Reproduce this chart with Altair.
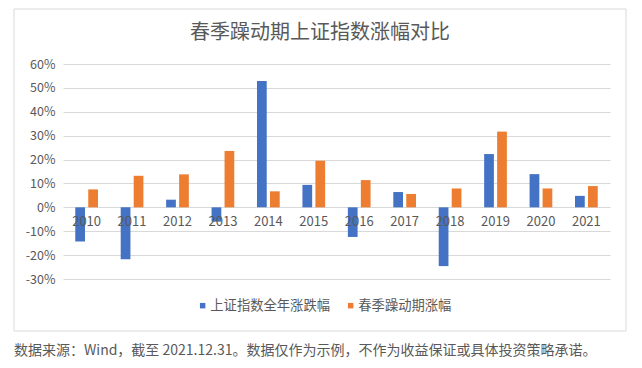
import altair as alt
import pandas as pd

years = ["2010", "2011", "2012", "2013", "2014", "2015", "2016", "2017", "2018", "2019", "2020", "2021"]
series_names = ["上证指数全年涨跌幅", "春季躁动期涨幅"]
shanghai_annual = [-14.3, -21.7, 3.2, -6.0, 52.9, 9.4, -12.4, 6.4, -24.6, 22.3, 13.9, 4.8]
spring_rally = [7.5, 13.2, 13.8, 23.6, 6.7, 19.5, 11.4, 5.6, 7.9, 31.7, 7.9, 8.9]
y_ticks = [-30, -20, -10, 0, 10, 20, 30, 40, 50, 60]
colors = ["#4472C4", "#ED7D31"]
title_text = "春季躁动期上证指数涨幅对比"
footnote_text = "数据来源：Wind，截至 2021.12.31。数据仅作为示例，不作为收益保证或具体投资策略承诺。"

FONT = "Noto Sans CJK SC"
GRAY = "#595959"

rows = []
for i, y in enumerate(years):
    rows.append({"year": y, "series": series_names[0], "value": shanghai_annual[i]})
    rows.append({"year": y, "series": series_names[1], "value": spring_rally[i]})
df = pd.DataFrame(rows)
year_df = pd.DataFrame({"year": years})
one = pd.DataFrame({"a": [0]})

W, H = 547, 215

x_scale = alt.Scale(domain=years, paddingInner=0.5, paddingOuter=0.27)
y_scale = alt.Scale(domain=[-30, 60], nice=False, zero=True)
y_axis = alt.Axis(values=y_ticks, title=None, domain=False, ticks=False,
                  labelExpr="datum.value + '%'", labelFont=FONT, labelFontSize=12.5,
                  labelColor=GRAY, labelPadding=8, labelOverlap=False,
                  grid=True, gridColor="#D9D9D9", gridWidth=1)

bars = alt.Chart(df).mark_bar().encode(
    x=alt.X("year:N", scale=x_scale, axis=None, sort=years),
    xOffset=alt.XOffset("series:N", sort=series_names,
                        scale=alt.Scale(domain=series_names, paddingInner=0.25, paddingOuter=0)),
    y=alt.Y("value:Q", scale=y_scale, axis=y_axis),
    color=alt.Color("series:N", sort=series_names,
                    scale=alt.Scale(domain=series_names, range=colors),
                    legend=alt.Legend(title=None, orient="none", direction="horizontal",
                                      legendX=133, legendY=235, symbolType="square",
                                      symbolSize=30, symbolStrokeWidth=0, labelFont=FONT,
                                      labelFontSize=13.3, labelColor=GRAY, labelOffset=1,
                                      columnPadding=14, padding=0)),
)

xlabels = alt.Chart(year_df).mark_text(
    font=FONT, fontSize=13, color=GRAY, dy=15, baseline="middle", align="center"
).encode(
    x=alt.X("year:N", scale=x_scale, sort=years, axis=None),
    y=alt.YDatum(0, scale=y_scale, axis=y_axis),
    text="year:N",
)

frame = alt.Chart(one).mark_rect(filled=False, stroke="#D9D9D9", strokeWidth=1).encode(
    x=alt.value(-49), x2=alt.value(563), y=alt.value(-55), y2=alt.value(267)
)

title = alt.Chart(one).mark_text(
    font=FONT, fontSize=20, color=GRAY, align="center", baseline="middle"
).encode(
    x=alt.value(257), y=alt.value(-31), text=alt.value(title_text)
)

footnote = alt.Chart(one).mark_text(
    font=FONT, fontSize=14, color=GRAY, align="left", baseline="middle"
).encode(
    x=alt.value(-49), y=alt.value(287), text=alt.value(footnote_text)
)

chart = alt.layer(frame, bars, xlabels, title, footnote).properties(
    width=W, height=H,
    autosize=alt.AutoSizeParams(type="none"),
    padding={"left": 55, "top": 56, "right": 20, "bottom": 80},
    background="white",
).configure_view(stroke=None).configure_axis(labelOverlap=False)

chart.save("out.html", embed_options={"renderer": "svg", "actions": False})
